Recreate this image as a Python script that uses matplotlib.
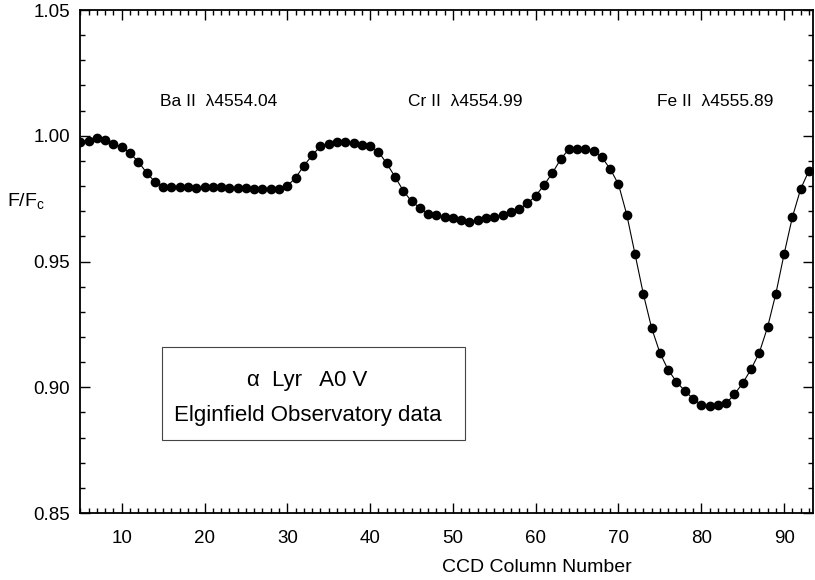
"""alpha Lyr A0 V spectrum around 4555 A, Elginfield Observatory data."""
import matplotlib

matplotlib.use("Agg")
import matplotlib.pyplot as plt
from matplotlib.patches import Rectangle
from matplotlib.ticker import MultipleLocator

plt.rcParams["font.family"] = ["Liberation Sans", "DejaVu Sans"]
plt.rcParams["mathtext.fontset"] = "custom"
plt.rcParams["mathtext.rm"] = "Liberation Sans"

# CCD columns 5..93 and normalised flux
columns = list(range(5, 94))
flux = [
    0.9976, 0.9980, 0.9990, 0.9983, 0.9966, 0.9957, 0.9930, 0.9897, 0.9853, 0.9817,
    0.9797, 0.9796, 0.9796, 0.9796, 0.9791, 0.9797, 0.9797, 0.9796, 0.9791, 0.9791,
    0.9792, 0.9789, 0.9789, 0.9789, 0.9787, 0.9801, 0.9833, 0.9881, 0.9922, 0.9959,
    0.9967, 0.9974, 0.9975, 0.9972, 0.9963, 0.9958, 0.9937, 0.9890, 0.9837, 0.9782,
    0.9739, 0.9714, 0.9689, 0.9685, 0.9676, 0.9673, 0.9665, 0.9657, 0.9664, 0.9672,
    0.9678, 0.9685, 0.9697, 0.9708, 0.9731, 0.9761, 0.9804, 0.9851, 0.9906, 0.9947,
    0.9947, 0.9946, 0.9939, 0.9914, 0.9868, 0.9807, 0.9686, 0.9529, 0.9371, 0.9236,
    0.9137, 0.9069, 0.9022, 0.8986, 0.8955, 0.8930, 0.8924, 0.8928, 0.8936, 0.8972,
    0.9016, 0.9071, 0.9137, 0.9238, 0.9371, 0.9529, 0.9676, 0.9788, 0.9861,
]

line_labels = ["Ba II  \u03bb4554.04", "Cr II  \u03bb4554.99", "Fe II  \u03bb4555.89"]
line_label_cols = [14.6, 44.6, 74.6]
line_label_y = 1.0138

star_label = "\u03b1  Lyr   A0 V"
source_label = "Elginfield Observatory data"


def main() -> None:
    fig = plt.figure(figsize=(8.15, 5.8), dpi=100)
    ax = fig.add_axes([0.0982, 0.1155, 0.8994, 0.8672])

    ax.plot(columns, flux, color="black", lw=0.8, marker="o", ms=6,
            markerfacecolor="black", markeredgecolor="black")

    ax.set_xlim(4.96, 93.5)
    ax.set_ylim(0.85, 1.05)
    ax.xaxis.set_major_locator(MultipleLocator(10))
    ax.xaxis.set_minor_locator(MultipleLocator(1))
    ax.yaxis.set_major_locator(MultipleLocator(0.05))
    ax.yaxis.set_minor_locator(MultipleLocator(0.01))
    ax.yaxis.set_major_formatter(lambda v, _: f"{v:.2f}")
    ax.tick_params(which="both", direction="in", top=True, right=True,
                   labelsize=13.5, width=1.0)
    ax.tick_params(which="major", length=7)
    ax.tick_params(which="minor", length=3.5)
    ax.tick_params(axis="x", pad=12)
    ax.tick_params(axis="y", pad=7)
    for spine in ax.spines.values():
        spine.set_linewidth(1.3)

    ax.text(-0.1, 0.618, r"F/F$_\mathregular{c}$", transform=ax.transAxes,
            ha="left", va="center", fontsize=14)
    ax.text(0.623, -0.109, "CCD Column Number", transform=ax.transAxes,
            ha="center", va="center", fontsize=14)

    for label, col in zip(line_labels, line_label_cols):
        ax.text(col, line_label_y, label, ha="left", va="center", fontsize=12.5)

    ax.add_patch(Rectangle((0.112, 0.145), 0.413, 0.185, transform=ax.transAxes,
                           fill=False, edgecolor="#444444", lw=0.8))
    ax.text(0.31, 0.264, star_label, transform=ax.transAxes,
            ha="center", va="center", fontsize=16)
    ax.text(0.311, 0.193, source_label, transform=ax.transAxes,
            ha="center", va="center", fontsize=16)

    fig.savefig("out.png", dpi=100)
    plt.close(fig)


if __name__ == "__main__":
    main()
